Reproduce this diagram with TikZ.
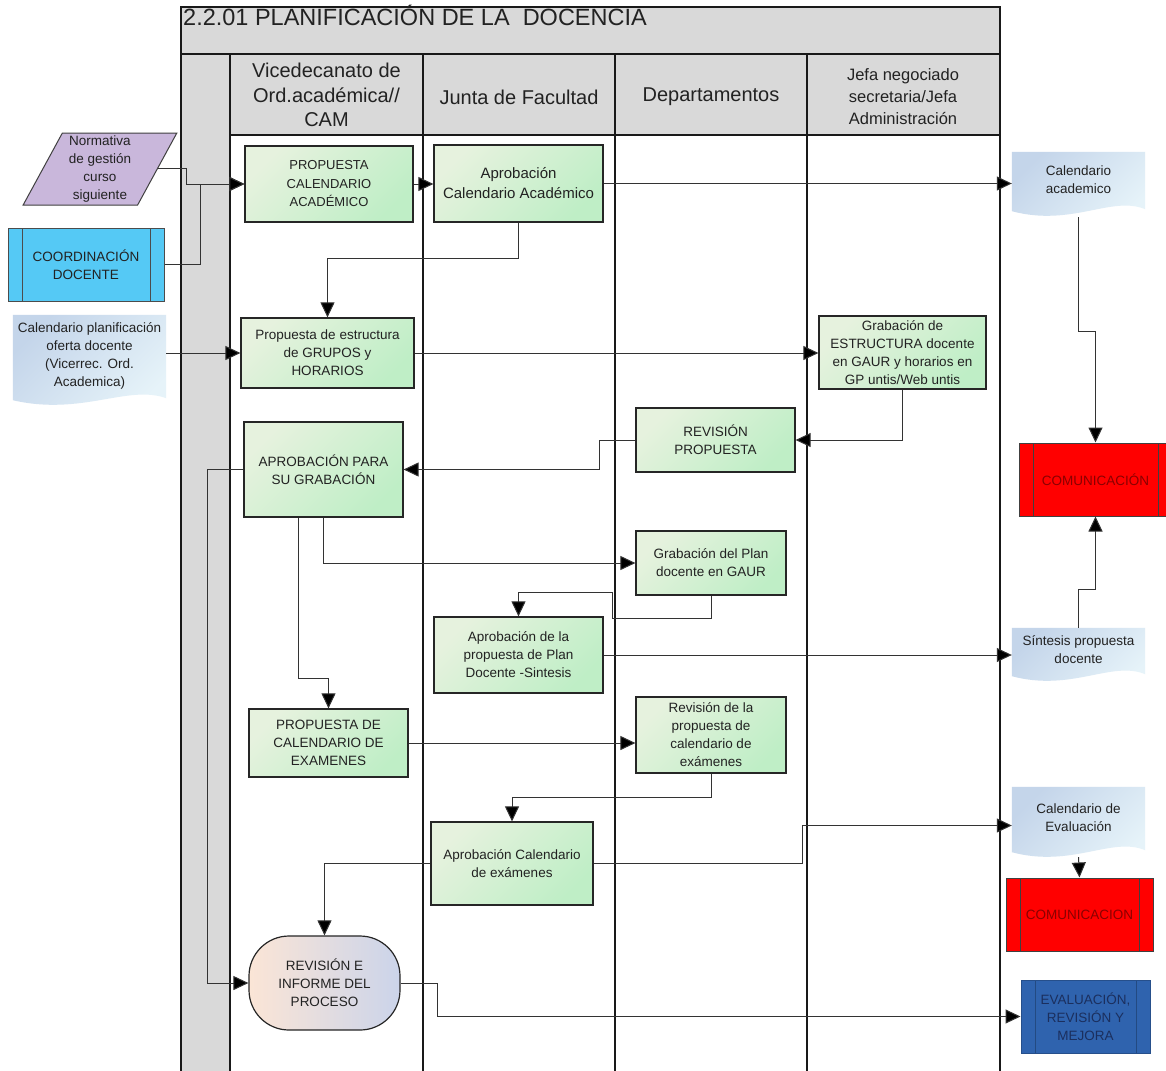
\documentclass[tikz,border=0pt]{standalone}
\usepackage{fontspec}
\setmainfont{Liberation Sans}
\usetikzlibrary{arrows.meta,shapes.geometric,calc}
\pgfdeclarelayer{lanes}
\pgfdeclarelayer{forms}
\pgfsetlayers{lanes,forms,main}

\definecolor{poolgray}{HTML}{D9D9D9}
\definecolor{greenA}{HTML}{E6F2DE}
\definecolor{greenB}{HTML}{BFEEC6}
\definecolor{lineC}{HTML}{333333}
\definecolor{txt}{HTML}{222222}
\definecolor{lilac}{HTML}{C9B7DB}
\definecolor{cyanbox}{HTML}{55C9F5}
\definecolor{docA}{HTML}{C4D5EA}
\definecolor{docB}{HTML}{E6F3F9}
\definecolor{redbox}{HTML}{FF0000}
\definecolor{redtxt}{HTML}{8A0000}
\definecolor{bluebox}{HTML}{2F63AE}
\definecolor{bluetxt}{HTML}{1B2F5E}
\definecolor{peach}{HTML}{FBE5D6}
\definecolor{lav}{HTML}{CBD4EA}

% document symbol with a wavy lower edge, hanging below the node body
\newcommand\docform[1]{%
  \shade[left color=docA, right color=docB, shading angle=45]
    (#1.north west) -- (#1.north east) -- ([yshift=-2pt]#1.south east)
    .. controls ([yshift=12pt]$(#1.south west)!0.75!(#1.south east)$)
    and ([yshift=-20pt]$(#1.south west)!0.45!(#1.south east)$)
    .. ([yshift=-4pt]#1.south west) -- cycle;}

\begin{document}
\begin{tikzpicture}[x=1pt,y=-1pt,
  base/.style={align=center, text=txt, inner sep=2pt,
    font=\fontsize{13.5}{18}\selectfont},
  proc/.style={base, draw=black!85, line width=1.2pt,
    left color=greenA, middle color=greenB, right color=greenB,
    shading angle=45},
  sub/.style={path picture={
    \draw[line width=1pt, draw=#1]
      ([xshift=14pt]path picture bounding box.north west) --
      ([xshift=14pt]path picture bounding box.south west)
      ([xshift=-14pt]path picture bounding box.north east) --
      ([xshift=-14pt]path picture bounding box.south east);}},
  doc/.style={base, minimum width=133pt},
  hdr/.style={align=center, text=txt, inner sep=0pt,
    font=\fontsize{20}{24.5}\selectfont},
  lane/.style={draw=black!90, line width=1.3pt},
  conn/.style={draw=lineC, line width=1pt,
    -{Triangle[length=15pt,width=14pt,fill=black]}}]

\useasboundingbox (0,0) rectangle (1166,1070);

% ---------- pool and lanes ----------
\begin{pgfonlayer}{lanes}
  \fill[white] (0,0) rectangle (1166,1070);
  \fill[poolgray] (181,7) rectangle (1000,54);
  \fill[poolgray] (230,54) rectangle (1000,135);
  \fill[poolgray] (181,54) rectangle (230,1080);
  \draw[lane] (181,1080) -- (181,7) -- (1000,7) -- (1000,1080);
  \draw[lane] (181,54) -- (1000,54);
  \draw[lane] (230,135) -- (1000,135);
  \foreach \x in {230,423,615,807} \draw[lane] (\x,54) -- (\x,1080);
\end{pgfonlayer}

\node[anchor=base west, inner sep=0pt, text=txt,
  font=\fontsize{23.5}{28}\selectfont] (title) at (183,26)
  {2.2.01 PLANIFICACIÓN DE LA\ \ DOCENCIA};

\node[hdr] (h1) at (326.5,95) {Vicedecanato de\\Ord.académica//\\CAM};
\node[hdr] (h2) at (519,97) {Junta de Facultad};
\node[hdr] (h3) at (711,97) {Departamentos};
\node[hdr, font=\fontsize{16.5}{22}\selectfont] (h4) at (903,97)
  {Jefa negociado\\secretaria/Jefa\\Administración};

% ---------- inputs on the left ----------
\node[base, trapezium, trapezium left angle=64, trapezium right angle=116,
  trapezium stretches=true, minimum width=154pt, minimum height=72pt,
  inner sep=0pt, fill=lilac, draw=black!75, line width=1pt]
  (norm) at (100,169) {Normativa\\de gestión\\curso\\siguiente};
\node[base, draw=black!70, line width=1pt, fill=cyanbox, sub=black!70,
  minimum width=156pt, minimum height=73pt] (coord) at (86,264.5)
  {COORDINACIÓN\\DOCENTE};
\node[doc, minimum width=153pt, minimum height=81pt] (calplan) at (89.5,355.5)
  {Calendario planificación\\oferta docente\\(Vicerrec. Ord.\\Academica)};

% ---------- process steps ----------
\node[proc, minimum width=168pt, minimum height=76pt,
  font=\fontsize{13}{18.5}\selectfont] (prop1) at (329,184)
  {PROPUESTA\\CALENDARIO\\ACADÉMICO};
\node[proc, minimum width=169pt, minimum height=77pt,
  font=\fontsize{15}{20}\selectfont] (apr1) at (518.5,183.5)
  {Aprobación\\Calendario Académico};
\node[proc, minimum width=173pt, minimum height=70pt] (estr) at (327.5,353)
  {Propuesta de estructura\\de GRUPOS y\\HORARIOS};
\node[proc, minimum width=167pt, minimum height=73pt] (grab1) at (902.5,352.5)
  {Grabación de\\ESTRUCTURA docente\\en GAUR y horarios en\\GP untis/Web untis};
\node[proc, minimum width=159pt, minimum height=64pt] (revp) at (715.5,440)
  {REVISIÓN\\PROPUESTA};
\node[proc, minimum width=159pt, minimum height=95pt] (aprg) at (323.5,469.5)
  {APROBACIÓN PARA\\SU GRABACIÓN};
\node[proc, minimum width=150pt, minimum height=64pt] (plan) at (711,563)
  {Grabación del Plan\\docente en GAUR};
\node[proc, minimum width=169pt, minimum height=76pt] (aprp) at (518.5,655)
  {Aprobación de la\\propuesta de Plan\\Docente -Sintesis};
\node[proc, minimum width=159pt, minimum height=68pt] (pexam) at (328.5,743)
  {PROPUESTA DE\\CALENDARIO DE\\EXAMENES};
\node[proc, minimum width=150pt, minimum height=76pt] (revx) at (711,735)
  {Revisión de la\\propuesta de\\calendario de\\exámenes};
\node[proc, minimum width=162pt, minimum height=83pt] (aprx) at (512,863.5)
  {Aprobación Calendario\\de exámenes};
\node[base, draw=black!85, line width=1.2pt, rounded corners=40pt,
  left color=peach, middle color=peach!85!lav, right color=lav,
  minimum width=151pt, minimum height=94pt] (revi) at (324.5,983)
  {REVISIÓN E\\INFORME DEL\\PROCESO};

% ---------- outputs on the right ----------
\node[doc, minimum height=55pt] (calac) at (1078.5,179.5)
  {Calendario\\academico};
\node[base, fill=redbox, draw=black!75, line width=1pt, sub=black!75,
  text=redtxt, minimum width=153pt, minimum height=73pt]
  (comu1) at (1095.5,479.5) {COMUNICACIÓN};
\node[doc, minimum height=44pt] (sint) at (1078.5,650)
  {Síntesis propuesta\\docente};
\node[doc, minimum height=61pt] (caleval) at (1078.5,817.5)
  {Calendario de\\Evaluación};
\node[base, fill=redbox, draw=black!75, line width=1pt, sub=black!75,
  text=redtxt, minimum width=147pt, minimum height=73pt]
  (comu2) at (1079.5,914.5) {COMUNICACION};
\node[base, fill=bluebox, draw=bluebox!80!black, line width=1pt,
  sub=bluebox!75!black, text=bluetxt, minimum width=129pt,
  minimum height=73pt] (eval) at (1085.5,1016.5)
  {EVALUACIÓN,\\REVISIÓN Y\\MEJORA};

\begin{pgfonlayer}{forms}
  \docform{calplan}
  \docform{calac}
  \docform{sint}
  \docform{caleval}
\end{pgfonlayer}

% ---------- connectors ----------
\draw[conn] (norm.east) -- ++(29,0) |- (prop1.west);
\draw[conn] (coord.east) -- ++(36,0) |- (prop1.west);
\draw[conn] (prop1.east) -- (prop1.east -| apr1.west);
\draw[conn] (apr1.east) -- (apr1.east -| calac.west);
\draw[conn] (apr1.south) -- ++(0,36) -| (estr.north);
\draw[conn] (estr.west -| calplan.east) -- (estr.west);
\draw[conn] (estr.east) -- (estr.east -| grab1.west);
\draw[conn] (grab1.south) |- (revp.east);
\draw[conn] (revp.west) -- ++(-36,0) |- (aprg.east);
\draw[conn] ([yshift=-10pt]calac.south) -- ++(0,114) -| (comu1.north);
\draw[conn] (sint.north) -- ++(0,-38) -| (comu1.south);
\draw[conn] (aprg.south) |- (plan.west);
\draw[conn] ([xshift=-25pt]aprg.south) -- ++(0,161) -| (pexam.north);
\draw[conn] (plan.south) -- ++(0,23) -- ++(-99,0) -- ++(0,-26) -| (aprp.north);
\draw[conn] (aprp.east) -- (aprp.east -| sint.west);
\draw[conn] (pexam.east) -- (pexam.east -| revx.west);
\draw[conn] (revx.south) -- ++(0,24) -| (aprx.north);
\draw[conn] (aprx.east) -- ++(209,0) |- ([yshift=-8pt]caleval.west);
\draw[conn] ([yshift=-9pt]caleval.south) -- (comu2.north);
\draw[conn] (aprx.west) -| (revi.north);
\draw[conn] (aprg.west) -- ++(-36,0) |- (revi.west);
\draw[conn] (revi.east) -- ++(37,0) |- (eval.west);

\end{tikzpicture}
\end{document}
